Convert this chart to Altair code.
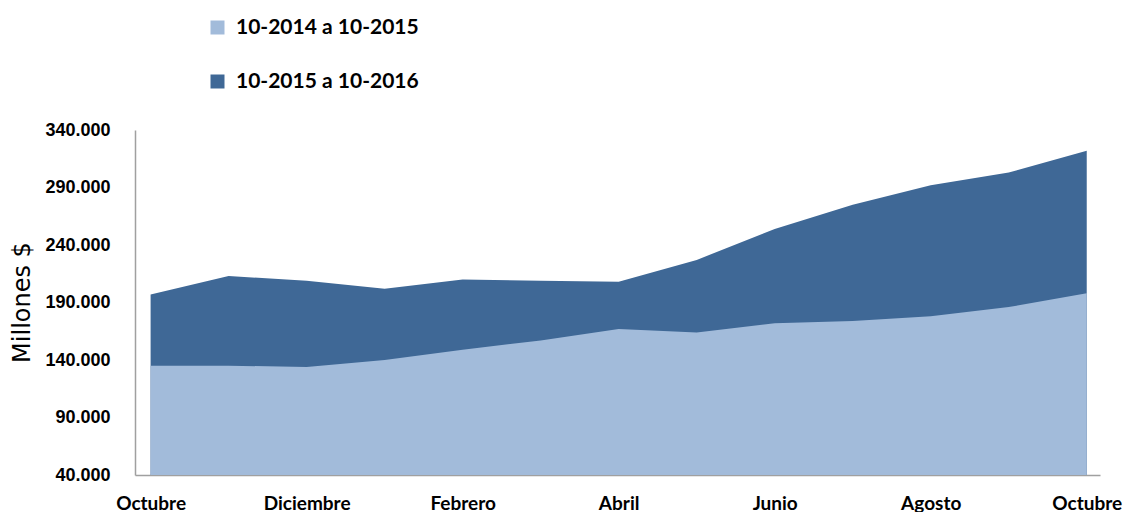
import json
import altair as alt
import pandas as pd

months = ["Octubre", "Noviembre", "Diciembre", "Enero", "Febrero", "Marzo", "Abril",
          "Mayo", "Junio", "Julio", "Agosto", "Septiembre", "Octubre"]
series_names = ["10-2014 a 10-2015", "10-2015 a 10-2016"]
serie_2014_2015 = [135000, 135000, 134000, 140000, 149000, 157000, 167000,
                   164000, 172000, 174000, 178000, 186000, 198000]
serie_2015_2016 = [197000, 213000, 209000, 202000, 210000, 209000, 208000,
                   227000, 254000, 275000, 292000, 303000, 322000]
y_ticks = [40000, 90000, 140000, 190000, 240000, 290000, 340000]
x_ticks = [0, 2, 4, 6, 8, 10, 12]

rows = []
for i, m in enumerate(months):
    rows.append({"idx": i, "mes": m, "serie": series_names[0], "valor": serie_2014_2015[i]})
    rows.append({"idx": i, "mes": m, "serie": series_names[1], "valor": serie_2015_2016[i]})
df = pd.DataFrame(rows)

color_scale = alt.Scale(domain=series_names, range=["#A2BBDA", "#3F6896"])
label_font = "Lato"

x_enc = alt.X(
    "idx:Q",
    scale=alt.Scale(domain=[-0.2, 12.17], nice=False, zero=False),
    axis=alt.Axis(
        values=x_ticks,
        labelExpr=json.dumps(months) + "[datum.value]",
        title=None, grid=False, ticks=False,
        labelFont=label_font, labelFontSize=19, labelFontWeight="bold",
        labelColor="#000000", labelPadding=19,
        domainColor="#A0A0A0", domainWidth=1.5,
    ),
)
y_enc = alt.Y(
    "valor:Q",
    scale=alt.Scale(domain=[40000, 340000], nice=False, zero=False),
    axis=alt.Axis(
        values=y_ticks,
        labelExpr="replace(format(datum.value, ','), ',', '.')",
        title="Millones $", grid=False, ticks=False,
        labelFont="Liberation Sans", labelFontSize=18, labelFontWeight="bold",
        labelColor="#000000", labelPadding=25,
        titleFont="DejaVu Sans", titleFontSize=24, titleFontWeight="normal",
        titleColor="#000000", titleX=-101, titleY=172,
        domainColor="#A0A0A0", domainWidth=1.5,
    ),
)
color_enc = alt.Color(
    "serie:N", scale=color_scale,
    legend=alt.Legend(
        orient="none", legendX=72, legendY=-113, direction="vertical", title=None,
        symbolType="square", symbolSize=196, symbolStrokeWidth=0,
        labelFont=label_font, labelFontSize=21, labelFontWeight="bold",
        labelColor="#000000", rowPadding=32, labelOffset=8, labelLimit=400,
    ),
)

base = alt.Chart(df).mark_area(opacity=1)

dark = base.transform_filter(alt.datum.serie == series_names[1]).encode(
    x=x_enc, y=y_enc, y2=alt.datum(40000), color=color_enc)
light = base.transform_filter(alt.datum.serie == series_names[0]).encode(
    x=x_enc, y=y_enc, y2=alt.datum(40000), color=color_enc)

chart = alt.layer(dark, light).properties(
    width=965, height=345,
    padding={"left": 127, "top": 122, "right": 26, "bottom": 37},
    autosize=alt.AutoSizeParams(type="none"),
    background="#FFFFFF",
).configure_view(stroke=None)

chart.save("out.html", embed_options={"renderer": "svg", "actions": False})
